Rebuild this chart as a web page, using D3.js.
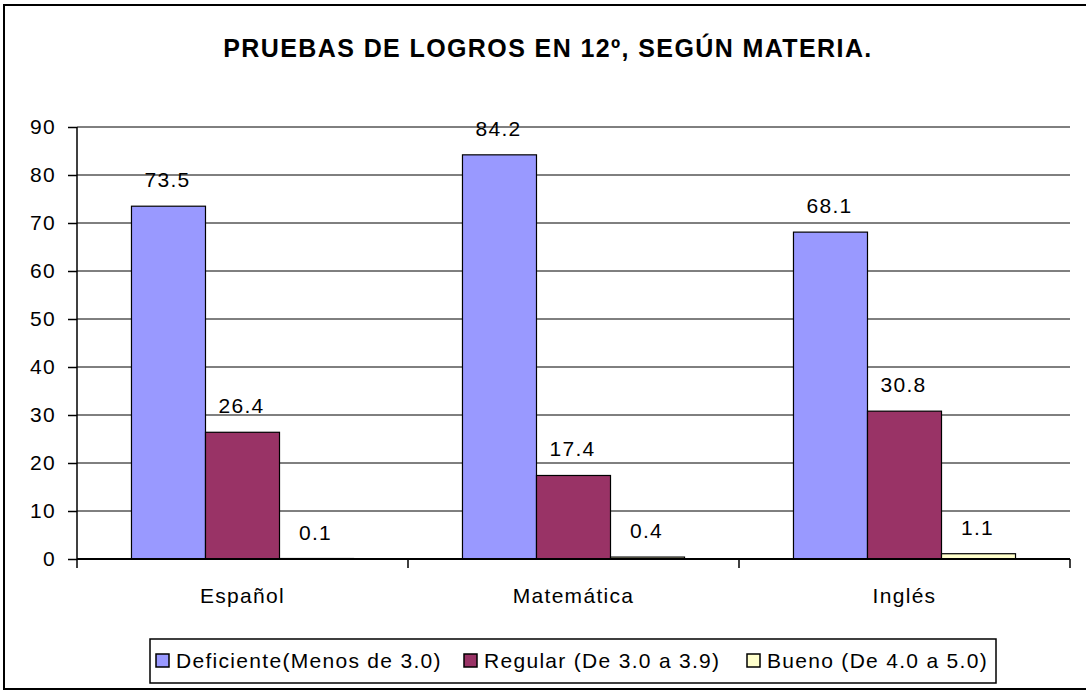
<!DOCTYPE html>
<meta charset="utf-8">
<style>
  body { margin: 0; background: #fff; }
  text { font-family: Arial, 'Liberation Sans', sans-serif; fill: #000; }
</style>
<script src="https://d3js.org/d3.v7.min.js"></script>
<div id="chart"></div>
<script>
// data
var subjects = ["Español", "Matemática", "Inglés"];
var seriesNames = ["Deficiente(Menos de 3.0)", "Regular (De 3.0 a 3.9)", "Bueno (De 4.0 a 5.0)"];
var deficiente = [73.5, 84.2, 68.1];
var regular = [26.4, 17.4, 30.8];
var bueno = [0.1, 0.4, 1.1];
var yTicks = [0, 10, 20, 30, 40, 50, 60, 70, 80, 90];
var colors = ["#9999FF", "#993366", "#FFFFCC"];

var W = 1086, H = 690;
var FONT = "Arial, 'Liberation Sans', sans-serif";
var svg = d3.select("#chart").append("svg")
    .attr("width", W).attr("height", H);

// outer frame
svg.append("rect")
    .attr("x", 4).attr("y", 5).attr("width", 1090).attr("height", 684)
    .attr("fill", "#fff").attr("stroke", "#000").attr("stroke-width", 2);

svg.append("text")
    .attr("x", 548).attr("y", 57)
    .attr("text-anchor", "middle")
    .style("font-size", "25px").style("font-weight", "bold")
    .style("letter-spacing", "1.4px")
    .text("PRUEBAS DE LOGROS EN 12º, SEGÚN MATERIA.");

var pLeft = 77, pRight = 1070, pTop = 127, pBottom = 559;

var x0 = d3.scaleBand().domain(subjects).range([pLeft, pRight]).paddingInner(0).paddingOuter(0);
var x1 = d3.scaleBand().domain([0, 1, 2]).range([0, x0.bandwidth()]).paddingOuter(0.736).paddingInner(0);
var y = d3.scaleLinear().domain([0, 90]).range([pBottom, pTop]);

// gridlines
svg.append("g").selectAll("line").data(yTicks.filter(function (d) { return d > 0; }))
  .enter().append("line")
    .attr("x1", pLeft).attr("x2", pRight)
    .attr("y1", function (d) { return y(d); }).attr("y2", function (d) { return y(d); })
    .attr("stroke", "#000").attr("stroke-width", 1);

// bars
var rows = subjects.map(function (s, i) { return [deficiente[i], regular[i], bueno[i]]; });
var groups = svg.append("g").selectAll("g").data(rows).enter().append("g")
    .attr("transform", function (d, i) { return "translate(" + x0(subjects[i]) + ",0)"; });

groups.selectAll("rect").data(function (d) { return d; }).enter().append("rect")
    .attr("x", function (d, j) { return x1(j); })
    .attr("y", function (d) { return y(d); })
    .attr("width", x1.bandwidth())
    .attr("height", function (d) { return pBottom - y(d); })
    .attr("fill", function (d, j) { return colors[j]; })
    .attr("stroke", "#000").attr("stroke-width", 1.2);

groups.selectAll("text").data(function (d) { return d; }).enter().append("text")
    .attr("x", function (d, j) { return x1(j) + x1.bandwidth() / 2 - 1; })
    .attr("y", function (d) { return y(d) - 19; })
    .attr("text-anchor", "middle")
    .style("font-size", "21px").style("letter-spacing", "1.3px")
    .text(function (d) { return d; });

// y axis
var yAxis = svg.append("g")
    .attr("transform", "translate(" + pLeft + ",0)")
    .call(d3.axisLeft(y).tickValues(yTicks).tickSize(9).tickPadding(12).tickFormat(d3.format("d")));
yAxis.select(".domain").attr("stroke", "#000").attr("stroke-width", 1.5).attr("d", "M0," + pTop + "V" + (pBottom + 9));
yAxis.selectAll(".tick line").attr("stroke", "#000").attr("stroke-width", 1.5);
yAxis.selectAll(".tick text").style("font-size", "21px").style("font-family", FONT)
    .style("letter-spacing", "1.3px").attr("fill", "#000");

// x axis
var xAxis = svg.append("g")
    .attr("transform", "translate(0," + pBottom + ")")
    .call(d3.axisBottom(x0).tickSize(0).tickPadding(29));
xAxis.select(".domain").attr("stroke", "#000").attr("stroke-width", 2).attr("d", "M" + pLeft + ",0H" + pRight);
xAxis.selectAll(".tick text").style("font-size", "21px").style("font-family", FONT)
    .style("letter-spacing", "1.3px").attr("fill", "#000");
xAxis.append("g").selectAll("line").data(subjects).enter().append("line")
    .attr("x1", function (d) { return x0(d) + x0.bandwidth(); })
    .attr("x2", function (d) { return x0(d) + x0.bandwidth(); })
    .attr("y1", 0).attr("y2", 9)
    .attr("stroke", "#000").attr("stroke-width", 1.5);

// legend
svg.append("rect")
    .attr("x", 150).attr("y", 639).attr("width", 846).attr("height", 44)
    .attr("fill", "#fff").attr("stroke", "#000").attr("stroke-width", 1.5);
var legendX = [156, 464, 747];
var leg = svg.append("g").selectAll("g").data(seriesNames).enter().append("g")
    .attr("transform", function (d, i) { return "translate(" + legendX[i] + ",654)"; });
leg.append("rect")
    .attr("width", 13).attr("height", 13)
    .attr("fill", function (d, i) { return colors[i]; })
    .attr("stroke", "#000").attr("stroke-width", 1.5);
leg.append("text")
    .attr("x", 20).attr("y", 14)
    .style("font-size", "21px").style("letter-spacing", "1.3px")
    .text(function (d) { return d; });
</script>
